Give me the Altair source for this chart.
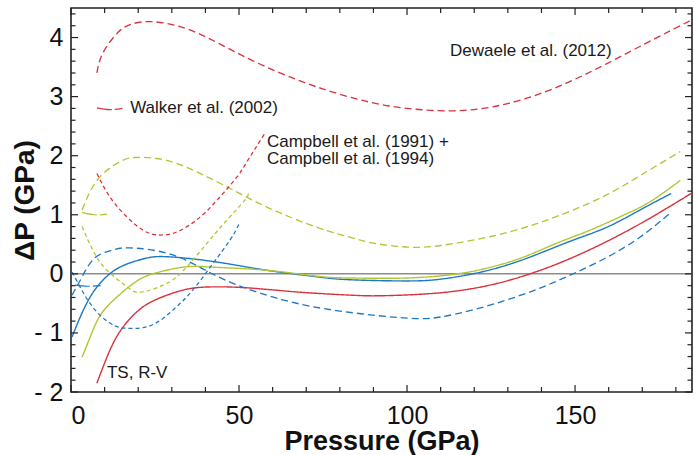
import altair as alt
import pandas as pd

# ---------------- data ----------------
# TS, R-V (solid)
ts_red_p = [7.7, 11.6, 15.5, 21.4, 28.6, 35.4, 42.9, 53.3, 68, 83, 93, 110, 124.7, 136.6, 149.4, 164.3, 177, 184.8]
ts_red_dp = [-1.85, -1.29, -0.9, -0.56, -0.36, -0.25, -0.22, -0.24, -0.31, -0.36, -0.37, -0.32, -0.19, 0.0, 0.28, 0.69, 1.1, 1.37]
ts_blue_p = [0.3, 3.3, 7.1, 12.2, 17.3, 22, 28.6, 43.4, 58.3, 73.2, 83, 100, 110, 119.6, 129.8, 139.6, 149.4, 159.5, 169.3, 178.6]
ts_blue_dp = [-1.07, -0.66, -0.27, 0.03, 0.18, 0.26, 0.29, 0.2, 0.06, -0.05, -0.1, -0.12, -0.09, 0.0, 0.15, 0.35, 0.57, 0.79, 1.08, 1.36]
ts_yg_p = [3.3, 6.2, 9.2, 14.3, 20.2, 26.2, 34.5, 43.4, 58.3, 73.2, 83, 100, 115, 124.7, 134.5, 144.6, 154.5, 164.3, 172.3, 181.3]
ts_yg_dp = [-1.41, -1.0, -0.66, -0.36, -0.1, 0.03, 0.12, 0.11, 0.06, -0.04, -0.07, -0.07, 0.0, 0.11, 0.28, 0.52, 0.74, 0.99, 1.22, 1.58]

# Dewaele et al. (2012) (long dash)
dw_red_p = [7.7, 9.5, 13.7, 17.6, 23.5, 31.5, 40.5, 54, 68, 80, 95, 113.7, 129.8, 144.6, 159.5, 174.4, 184.8]
dw_red_dp = [3.40, 3.74, 4.07, 4.22, 4.27, 4.2, 4.0, 3.61, 3.27, 3.04, 2.84, 2.76, 2.88, 3.16, 3.56, 4.0, 4.30]
dw_blue_p = [0.3, 3.3, 7.1, 12.2, 17.3, 28.6, 38.4, 48.2, 63, 80, 100, 110, 119.6, 129.8, 139.6, 149.4, 159.5, 169.3, 178.3]
dw_blue_dp = [-0.36, -0.05, 0.27, 0.40, 0.44, 0.35, 0.11, -0.16, -0.44, -0.63, -0.75, -0.73, -0.61, -0.44, -0.24, 0.0, 0.28, 0.62, 1.03]
dw_yg_p = [3.3, 7.7, 13.7, 19, 28.5, 38.4, 48.2, 58.3, 73, 83, 90, 101, 110, 119.6, 129.8, 139.6, 149.4, 159.5, 169.3, 181.3]
dw_yg_dp = [1.08, 1.58, 1.87, 1.97, 1.92, 1.70, 1.42, 1.13, 0.79, 0.62, 0.52, 0.45, 0.48, 0.57, 0.70, 0.87, 1.08, 1.34, 1.66, 2.07]

# Campbell et al. (1991) + (1994) (short dash)
cb_red_p = [7.7, 11.6, 16.7, 21.4, 25.6, 31.5, 38.4, 44.3, 49.4, 52.4, 57.7]
cb_red_dp = [1.70, 1.30, 0.96, 0.74, 0.66, 0.71, 0.96, 1.30, 1.64, 1.90, 2.38]
cb_blue_p = [0.3, 2.7, 5.4, 9.2, 13.1, 16.5, 23.5, 30.4, 36.3, 42.3, 47.3, 50]
cb_blue_dp = [0.03, -0.22, -0.48, -0.73, -0.88, -0.92, -0.88, -0.61, -0.27, 0.18, 0.57, 0.84]
cb_yg_p = [3.3, 6.5, 10.7, 16.7, 20.8, 28.6, 34.5, 40.5, 46.4, 51.8, 52.7]
cb_yg_dp = [0.80, 0.40, 0.06, -0.22, -0.31, -0.16, 0.12, 0.52, 0.91, 1.25, 1.36]

# Walker et al. (2002) (long dash, short range)
wk_red_p = [7.7, 11.5, 15.3]
wk_red_dp = [2.81, 2.78, 2.80]
wk_blue_p = [1.2, 4.8, 8.8]
wk_blue_dp = [-0.19, -0.21, -0.20]
wk_yg_p = [3.3, 7.0, 10.7]
wk_yg_dp = [1.04, 1.00, 1.01]

# annotations
ann_text = ["Dewaele et al. (2012)", "Walker et al. (2002)", "Campbell et al. (1991) +",
            "Campbell et al. (1994)", "TS, R-V"]
ann_p = [112.8, 17.6, 58.3, 58.3, 10.7]
ann_dp = [3.78, 2.80, 2.235, 1.94, -1.68]

x_major = [0, 50, 100, 150]
x_minor = [10, 20, 30, 40, 60, 70, 80, 90, 110, 120, 130, 140, 160, 170, 180]
y_major = [-2, -1, 0, 1, 2, 3, 4]
y_minor = [-1.8, -1.6, -1.4, -1.2, -0.8, -0.6, -0.4, -0.2, 0.2, 0.4, 0.6, 0.8,
           1.2, 1.4, 1.6, 1.8, 2.2, 2.4, 2.6, 2.8, 3.2, 3.4, 3.6, 3.8, 4.2, 4.4]

# ---------------- build table ----------------
curves = [
    ("ts_red", "red", "solid", ts_red_p, ts_red_dp),
    ("ts_blue", "blue", "solid", ts_blue_p, ts_blue_dp),
    ("ts_yg", "yg", "solid", ts_yg_p, ts_yg_dp),
    ("dw_red", "red", "dewaele", dw_red_p, dw_red_dp),
    ("dw_blue", "blue", "dewaele", dw_blue_p, dw_blue_dp),
    ("dw_yg", "yg", "dewaele", dw_yg_p, dw_yg_dp),
    ("cb_red", "red", "campbell", cb_red_p, cb_red_dp),
    ("cb_blue", "blue", "campbell", cb_blue_p, cb_blue_dp),
    ("cb_yg", "yg", "campbell", cb_yg_p, cb_yg_dp),
    ("wk_red", "red", "walker", wk_red_p, wk_red_dp),
    ("wk_blue", "blue", "walker", wk_blue_p, wk_blue_dp),
    ("wk_yg", "yg", "walker", wk_yg_p, wk_yg_dp),
]
rows = []
for name, col, style, ps, ds in curves:
    for p, d in zip(ps, ds):
        rows.append({"curve": name, "col": col, "style": style, "P": p, "dP": d})
df = pd.DataFrame(rows)

W, H = 621, 384
FONT = "Liberation Sans"
xscale = alt.Scale(domain=[0, 184.8], nice=False, zero=False)
yscale = alt.Scale(domain=[-2, 4.5], nice=False, zero=False)

xaxis = alt.Axis(values=x_major, ticks=False, domain=False, grid=False,
                 labelFont=FONT, labelFontSize=25, labelColor="#111",
                 labelPadding=11, title="Pressure (GPa)",
                 titleFont=FONT, titleFontSize=27, titleFontWeight="bold",
                 titleColor="#111", titleBaseline="alphabetic", titleY=57)
yaxis = alt.Axis(values=y_major, ticks=False, domain=False, grid=False,
                 labelFont=FONT, labelFontSize=25, labelColor="#111",
                 labelPadding=8,
                 labelExpr="datum.value < 0 ? '- ' + abs(datum.value) : datum.label",
                 title="ΔP (GPa)", titleFont=FONT, titleFontSize=28,
                 titleFontWeight="bold", titleColor="#111",
                 titleBaseline="alphabetic", titleX=-38)

zero_line = alt.Chart(pd.DataFrame({"v": [0]})).mark_rule(
    color="#8c8c8c", strokeWidth=1.5
).encode(y=alt.Y("v:Q", scale=yscale, axis=yaxis))

lines = alt.Chart(df).mark_line(interpolate="natural", clip=True).encode(
    x=alt.X("P:Q", scale=xscale, axis=xaxis),
    y=alt.Y("dP:Q", scale=yscale, axis=yaxis),
    color=alt.Color("col:N", scale=alt.Scale(domain=["red", "blue", "yg"],
                                             range=["#d7333e", "#1c78c4", "#b3c631"]),
                    legend=None),
    strokeDash=alt.StrokeDash("style:N",
                              scale=alt.Scale(domain=["solid", "dewaele", "campbell", "walker"],
                                              range=[[1, 0], [7, 4], [4, 3], [15, 3]]),
                              legend=None),
    strokeWidth=alt.StrokeWidth("style:N",
                                scale=alt.Scale(domain=["solid", "dewaele", "campbell", "walker"],
                                                range=[1.4, 1.2, 1.2, 1.2]),
                                legend=None),
    detail="curve:N",
)

ann = alt.Chart(pd.DataFrame({"t": ann_text, "P": ann_p, "dP": ann_dp})).mark_text(
    align="left", baseline="middle", font=FONT, fontSize=17, color="#1a1a1a"
).encode(x=alt.X("P:Q", scale=xscale, axis=xaxis),
         y=alt.Y("dP:Q", scale=yscale, axis=yaxis), text="t:N")

def xticks(vals, length):
    d = pd.DataFrame({"v": vals})
    bottom = alt.Chart(d).mark_rule(color="#222", strokeWidth=1.2).encode(
        x=alt.X("v:Q", scale=xscale, axis=xaxis),
        y=alt.value(H - length), y2=alt.value(H))
    top = alt.Chart(d).mark_rule(color="#222", strokeWidth=1.2).encode(
        x=alt.X("v:Q", scale=xscale, axis=xaxis),
        y=alt.value(0), y2=alt.value(length))
    return [bottom, top]

def yticks(vals, length):
    d = pd.DataFrame({"v": vals})
    left = alt.Chart(d).mark_rule(color="#222", strokeWidth=1.2).encode(
        y=alt.Y("v:Q", scale=yscale, axis=yaxis),
        x=alt.value(0), x2=alt.value(length))
    right = alt.Chart(d).mark_rule(color="#222", strokeWidth=1.2).encode(
        y=alt.Y("v:Q", scale=yscale, axis=yaxis),
        x=alt.value(W - length), x2=alt.value(W))
    return [left, right]

layers = [zero_line, lines, ann] + xticks(x_major, 7) + xticks(x_minor, 5) \
    + yticks(y_major, 7) + yticks(y_minor, 4.5)

chart = alt.layer(*layers).properties(
    width=W, height=H,
    autosize=alt.AutoSizeParams(type="none"),
    padding={"left": 71, "top": 8, "right": 2, "bottom": 63},
    background="white",
).configure_view(stroke="#222", strokeWidth=1.6)

chart.save("out.html", embed_options={"renderer": "svg", "actions": False})
